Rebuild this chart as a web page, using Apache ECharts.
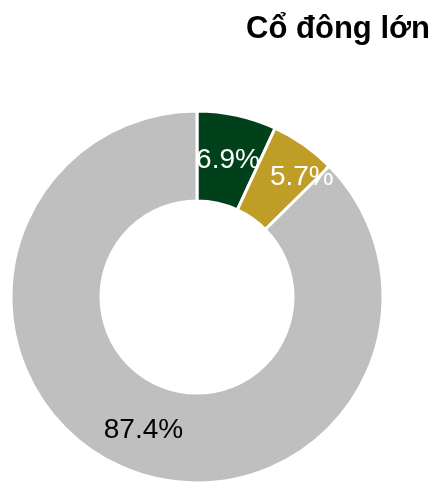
<!DOCTYPE html>
<html>
<head>
<meta charset="utf-8">
<script src="https://cdn.jsdelivr.net/npm/echarts@6/dist/echarts.min.js"></script>
<style>
html,body{margin:0;padding:0;background:#fff;}
#chart{width:441px;height:482px;}
</style>
</head>
<body>
<div id="chart"></div>
<script>
// Shareholder structure
const categories = ['Cổ đông A', 'Cổ đông B', 'Khác'];
const shares = [6.9, 5.7, 87.4];
const sliceColors = ['#00401A', '#BF9D26', '#BFBFBF'];
const labelColors = ['#ffffff', '#ffffff', '#000000'];
const labelOffsets = [[0, 4], [22, -2], [2, 0]];

const chart = echarts.init(document.getElementById('chart'));
chart.setOption({
  animation: false,
  title: {
    text: 'Cổ đông lớn',
    right: 6,
    top: 9,
    textStyle: { fontFamily: 'Liberation Sans, Arial, sans-serif', fontSize: 31, fontWeight: 'bold', color: '#000' }
  },
  series: [{
    type: 'pie',
    center: [197, 297],
    radius: [96, 186],
    startAngle: 90,
    clockwise: true,
    avoidLabelOverlap: false,
    itemStyle: { borderColor: '#fff', borderWidth: 3 },
    label: {
      show: true,
      position: 'inside',
      formatter: p => p.value.toFixed(1) + '%',
      fontFamily: 'Liberation Sans, Arial, sans-serif',
      fontSize: 28
    },
    labelLine: { show: false },
    emphasis: { disabled: true },
    data: categories.map((name, i) => ({
      name,
      value: shares[i],
      itemStyle: { color: sliceColors[i] },
      label: { color: labelColors[i], offset: labelOffsets[i] }
    }))
  }]
});
</script>
</body>
</html>
